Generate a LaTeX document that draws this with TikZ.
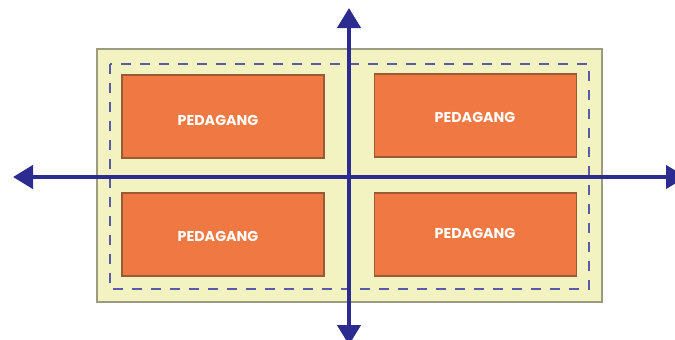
\documentclass[tikz,border=0pt]{standalone}
\usepackage{fontspec}
\setmainfont{Poppins}
\usetikzlibrary{arrows.meta}
\definecolor{panelfill}{HTML}{F3F3C2}
\definecolor{panelline}{HTML}{9C9C7C}
\definecolor{boxfill}{HTML}{F07842}
\definecolor{boxline}{HTML}{9A5A36}
\definecolor{dashcol}{HTML}{5A5AA6}
\definecolor{axiscol}{HTML}{2C2C90}
\tikzset{
  panel/.style={draw=panelline, fill=panelfill, line width=1.6pt},
  zone/.style={draw=dashcol, line width=1.4pt, dash pattern=on 10pt off 9pt},
  stall/.style={draw=boxline, fill=boxfill, line width=1.2pt, minimum width=202pt, minimum height=83pt, inner sep=0pt},
  stalltext/.style={text=white, font=\bfseries\fontsize{14.3}{15}\selectfont, inner sep=0pt},
  axis/.style={draw=axiscol, line width=4.4pt, -{Triangle[length=20pt,width=23pt]}}
}
\begin{document}
\begin{tikzpicture}[x=1pt,y=-1pt]
\useasboundingbox (0,0) rectangle (675,340);
\clip (0,0) rectangle (675,340);
\fill[white] (0,0) rectangle (675,340);
% outer panel
\path[panel] (97,49) rectangle (602,302);
% dashed zone
\path[zone] (110,64) rectangle (589,289);
% stalls
\node[stall] (tl) at (223,116.5) {};
\node[stall] (tr) at (475.5,115.5) {};
\node[stall] (bl) at (223,234.5) {};
\node[stall] (br) at (475.5,234.5) {};
\node[stalltext] (tlt) at (218,120) {PEDAGANG};
\node[stalltext] (trt) at (475,117) {PEDAGANG};
\node[stalltext] (blt) at (218,236) {PEDAGANG};
\node[stalltext] (brt) at (475,233) {PEDAGANG};
% axes
\coordinate (c) at (349,177);
\coordinate (west) at (13,177);
\coordinate (east) at (686,177);
\coordinate (north) at (349,8);
\coordinate (south) at (349,345);
\draw[axis] (c) -- (west);
\draw[axis] (c) -- (east);
\draw[axis] (c) -- (north);
\draw[axis] (c) -- (south);
\end{tikzpicture}
\end{document}
